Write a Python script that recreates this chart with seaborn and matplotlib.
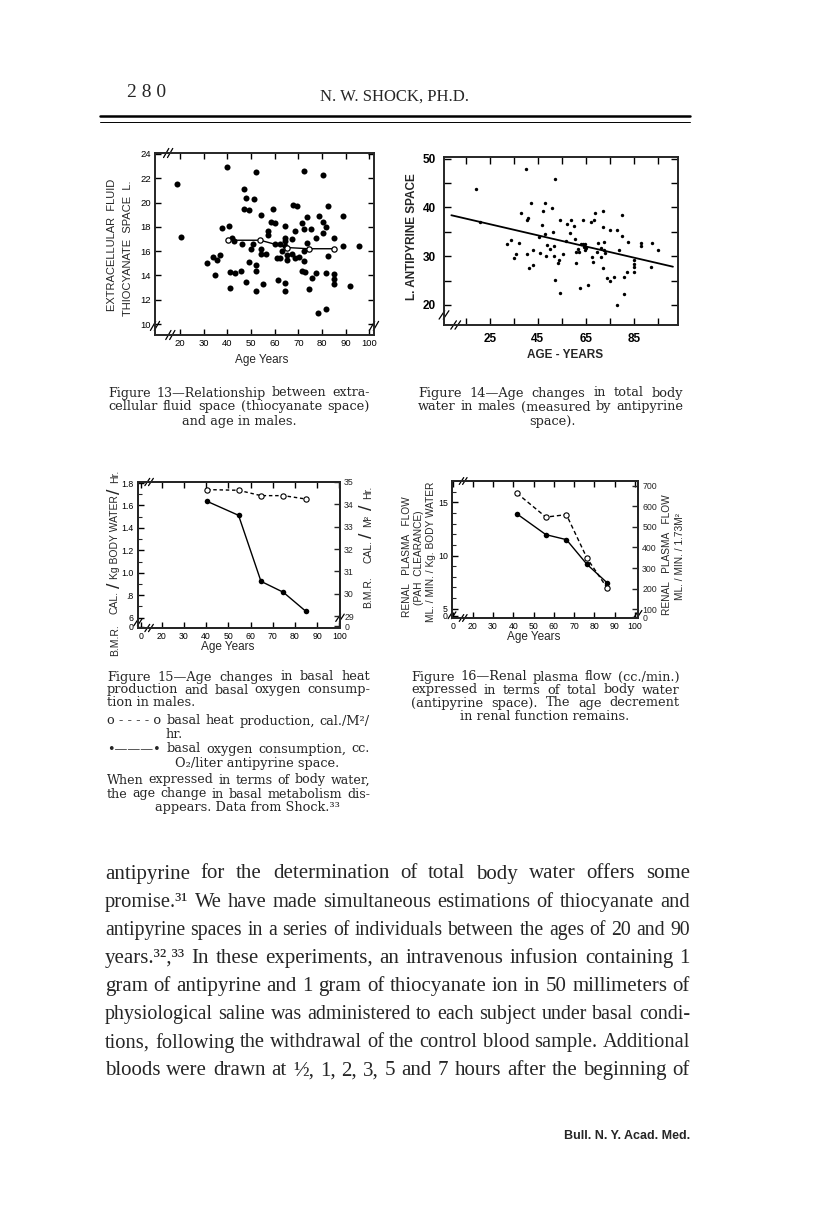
import matplotlib.pyplot as plt
import seaborn as sns
from matplotlib.lines import Line2D

sns.set_style('ticks')
plt.rcParams['font.family'] = ['Liberation Sans', 'DejaVu Sans']
plt.rcParams['axes.linewidth'] = 1.3

# ---- Figure 13: thiocyanate space vs age ----
ages13 = [18.6, 20.4, 31.5, 33.8, 34.8, 35.8, 36.9, 37.7, 39.9, 40.8,
          41.1, 41.0, 41.8, 43.0, 43.1, 45.9, 46.1, 47.2, 47.0, 48.0,
          49.1, 47.9, 49.1, 50.1, 51.1, 51.0, 52.1, 52.0, 52.1, 52.0,
          54.1, 54.1, 54.2, 55.2, 56.2, 57.0, 57.0, 58.3, 59.3, 60.0,
          60.3, 60.8, 61.3, 62.2, 62.2, 63.2, 64.2, 64.2, 64.2, 64.2,
          64.2, 64.2, 65.4, 65.4, 67.2, 67.2, 67.9, 68.6, 68.6, 69.6,
          70.4, 71.4, 71.4, 72.4, 72.4, 72.4, 72.4, 72.8, 73.5, 73.5,
          74.6, 75.3, 75.6, 77.5, 77.5, 78.5, 78.7, 80.6, 80.6, 80.6,
          81.6, 81.6, 81.6, 82.5, 82.7, 85.2, 85.2, 85.2, 85.2, 88.7,
          88.7, 91.8, 95.8]
ecf13 = [21.5, 17.2, 15.0, 15.5, 14.0, 15.3, 15.7, 17.9, 22.9, 18.1,
         14.3, 13.0, 17.1, 16.8, 14.2, 14.4, 16.6, 21.1, 19.5, 20.4,
         19.4, 13.5, 15.1, 16.2, 20.3, 16.6, 22.5, 14.9, 14.4, 12.7,
         19.0, 16.2, 15.8, 13.3, 15.8, 17.7, 17.3, 18.4, 19.5, 16.6,
         18.3, 15.4, 13.6, 15.4, 16.6, 16.0, 18.1, 17.1, 16.8, 16.4,
         13.4, 12.7, 15.7, 15.3, 17.0, 15.8, 19.8, 17.7, 15.4, 19.7,
         15.5, 18.3, 14.4, 22.6, 17.8, 15.2, 16.0, 14.3, 18.8, 16.7,
         12.9, 17.8, 13.8, 17.1, 14.2, 10.9, 18.9, 22.3, 18.4, 17.5,
         18.0, 14.2, 11.2, 15.6, 19.7, 17.1, 14.1, 13.7, 13.3, 18.9,
         16.4, 13.1, 16.4]
mean_age13 = [40.1, 53.9, 65.2, 74.4, 85.2]
mean_ecf13 = [16.9, 16.9, 16.3, 16.2, 16.2]

# ---- Figure 14: antipyrine space vs age ----
ages14 = [19.2, 20.9, 32.2, 34.0, 35.1, 36.1, 37.2, 37.9, 40.2, 40.6,
          40.9, 40.5, 41.2, 42.0, 43.0, 43.0, 45.6, 45.7, 47.1, 46.9,
          48.1, 48.1, 48.5, 48.9, 49.9, 50.9, 51.1, 51.7, 51.7, 52.0,
          52.0, 53.4, 53.8, 54.0, 54.3, 55.4, 56.8, 57.2, 58.2, 58.9,
          59.9, 60.4, 61.0, 61.0, 61.7, 62.1, 62.6, 63.0, 63.9, 63.7,
          64.1, 64.4, 64.7, 65.1, 65.8, 67.2, 67.5, 68.0, 68.3, 68.8,
          69.3, 70.0, 71.0, 71.3, 71.9, 72.0, 72.0, 72.4, 72.4, 73.0,
          73.7, 74.8, 75.1, 76.6, 77.8, 77.6, 78.5, 80.0, 80.0, 80.7,
          80.7, 81.8, 82.4, 84.9, 84.9, 84.9, 84.9, 87.9, 87.9, 91.7,
          92.2, 94.8]
anti14 = [43.7, 37.0, 32.5, 33.3, 29.6, 30.4, 32.8, 38.9, 47.8, 37.5,
          37.9, 30.4, 27.6, 41.0, 31.3, 28.3, 34.0, 30.6, 39.3, 36.4,
          41.0, 34.5, 30.0, 32.3, 31.4, 39.9, 35.0, 32.1, 30.0, 45.8,
          25.1, 28.7, 29.2, 37.5, 22.5, 30.4, 33.1, 36.6, 34.8, 37.5,
          36.2, 33.6, 28.7, 30.9, 31.4, 30.9, 23.4, 32.5, 37.5, 32.6,
          31.9, 31.3, 32.6, 31.6, 24.2, 37.0, 29.8, 28.9, 37.4, 38.9,
          30.9, 32.8, 29.8, 31.6, 39.2, 35.9, 27.5, 33.0, 31.3, 30.6,
          25.5, 24.9, 35.3, 25.8, 35.3, 20.1, 31.3, 38.5, 34.1, 22.3,
          25.8, 26.8, 33.0, 29.3, 28.5, 27.7, 26.8, 32.8, 32.0, 27.7,
          32.8, 31.3]
fit_age14 = [9.1, 101.0]
fit_anti14 = [38.4, 27.85]

# ---- Figure 15: basal metabolism ----
ages15 = [40.4, 54.6, 64.7, 74.8, 84.9]
heat15 = [34.66, 34.63, 34.39, 34.39, 34.24]     # cal./M2/hr (right axis)
oxygen15 = [1.637, 1.512, 0.924, 0.826, 0.657]   # per kg body water (left axis)

# ---- Figure 16: renal plasma flow ----
ages16 = [41.8, 56.1, 66.2, 76.4, 86.2]
rpf_water16 = [13.91, 11.96, 11.49, 9.16, 7.45]  # left axis
rpf_area16 = [663, 547, 559, 347, 205]           # right axis

W, H = 816, 1224
fig = plt.figure(figsize=(W / 100, H / 100), dpi=100)
rend = fig.canvas.get_renderer()


def ax_at(l, t, r, b):
    return fig.add_axes([l / W, 1 - b / H, (r - l) / W, (b - t) / H])


def txt(x, y, s, **kw):
    return fig.text(x / W, 1 - y / H, s, **kw)


def justify(tokens, x0, x1, y, fontsize, mingap=4, **kw):
    # spread the words so the line fills x0..x1, shrinking the type if it is too tight
    if isinstance(tokens, str):
        tokens = tokens.split()
    texts = [txt(0, y, w, ha='left', va='center', fontsize=fontsize, **kw) for w in tokens]
    n = max(len(tokens) - 1, 1)
    while True:
        widths = [t.get_window_extent(rend).width for t in texts]
        gap = (x1 - x0 - sum(widths)) / n
        if gap >= mingap or fontsize < 6:
            break
        fontsize -= 0.2
        for t in texts:
            t.set_fontsize(fontsize)
    x = x0
    for t, w in zip(texts, widths):
        t.set_x(x / W)
        x += w + gap


def brk(ax, x, y, dx=0.012, dy=0.025, sep=0.018):
    for s in (-sep / 2, sep / 2):
        ax.plot([x + s - dx, x + s + dx], [y - dy, y + dy], transform=ax.transAxes,
                color='k', lw=0.9, clip_on=False)


def style(ax, size):
    ax.tick_params(direction='in', top=True, right=True, length=4, width=1,
                   labelsize=size, pad=3, colors='k')
    for sp in ax.spines.values():
        sp.set_visible(True)
        sp.set_linewidth(1.4)


# header
txt(127, 97, '2 8 0', fontsize=14, family=['Liberation Serif'])
txt(395, 97, 'N. W. SHOCK, PH.D.', fontsize=12, ha='center', va='center',
    family=['Liberation Serif'])
fig.add_artist(Line2D([100 / W, 690 / W], [1 - 116 / H] * 2, color='k', lw=1.8))
fig.add_artist(Line2D([100 / W, 690 / W], [1 - 122 / H] * 2, color='k', lw=0.7))

# ---- Fig 13 ----
ax = ax_at(155, 153, 374, 335)
sns.scatterplot(x=ages13, y=ecf13, ax=ax, color='k', s=19, linewidth=0)
sns.lineplot(x=mean_age13, y=mean_ecf13, ax=ax, color='k', lw=1, marker='o',
             markersize=3.8, markerfacecolor='white', markeredgecolor='k',
             markeredgewidth=0.9, estimator=None)
ax.set_xlim(9.4, 102)
ax.set_ylim(9.1, 24.08)
ax.set_xticks(range(20, 101, 10))
ax.set_yticks(range(10, 25, 2))
style(ax, 6.8)
brk(ax, 0.06, 1.0)
brk(ax, 0.07, 0.0)
brk(ax, 0.0, 0.05)
brk(ax, 1.0, 0.05)
txt(262, 360, 'Age Years', fontsize=8.5, ha='center', va='center')
txt(112, 245, 'EXTRACELLULAR  FLUID', fontsize=8, rotation=90, ha='center', va='center')
txt(128, 248, 'THIOCYANATE  SPACE  L.', fontsize=8, rotation=90, ha='center', va='center')

# ---- Fig 14 ----
ax = ax_at(444, 157, 678, 325)
sns.scatterplot(x=ages14, y=anti14, ax=ax, color='k', s=6, linewidth=0)
sns.lineplot(x=fit_age14, y=fit_anti14, ax=ax, color='k', lw=1.3, estimator=None)
ax.set_xlim(6.05, 103.1)
ax.set_ylim(15.9, 50.34)
ax.set_xticks(range(15, 96, 10))
ax.set_xticklabels(['' if v % 20 == 15 else str(v) for v in range(15, 96, 10)],
                   fontweight='bold')
ax.set_yticks(range(20, 51, 5))
ax.set_yticklabels([str(v) if v % 10 == 0 else '' for v in range(20, 51, 5)],
                   fontweight='bold')
style(ax, 8.5)
ax.tick_params(length=5, pad=6)
brk(ax, 0.0, 0.06)
brk(ax, 0.05, 0.0)
txt(565, 355, 'AGE - YEARS', fontsize=8.5, fontweight='bold', ha='center', va='center')
txt(412, 237, 'L. ANTIPYRINE SPACE', fontsize=8.5, fontweight='bold', rotation=90,
    ha='center', va='center')

# ---- Fig 15 ----
ax = ax_at(138, 482, 340, 628)
ax2 = ax.twinx()
sns.lineplot(x=ages15, y=oxygen15, ax=ax, color='k', lw=1, marker='o', markersize=4,
             markeredgewidth=0, estimator=None)
sns.lineplot(x=ages15, y=heat15, ax=ax2, color='k', lw=1, ls=(0, (2.5, 2)), marker='o',
             markersize=3.8, markerfacecolor='white', markeredgecolor='k',
             markeredgewidth=0.8, estimator=None)
ax.set_xlim(9.3, 100.3)
ax.set_ylim(0.508, 1.809)
ax2.set_ylim(28.47, 35.0)
ax.set_xticks([10.6] + list(range(20, 101, 10)))
ax.set_xticklabels(['0'] + [str(v) for v in range(20, 101, 10)])
ax.set_yticks([0.517, 0.6, 0.8, 1.0, 1.2, 1.4, 1.6, 1.8])
ax.set_yticklabels(['0', '6', '.8', '1.0', '1.2', '1.4', '1.6', '1.8'])
ax.set_yticks([0.7, 0.9, 1.1, 1.3, 1.5, 1.7], minor=True)
ax2.set_yticks([28.55] + list(range(29, 36)))
ax2.set_yticklabels(['0'] + [str(v) for v in range(29, 36)])
ax2.set_ylabel('')
ax.set_ylabel('')
style(ax, 6.3)
ax.tick_params(right=False)
ax.tick_params(which='minor', direction='in', left=True, length=3, width=0.8)
ax2.tick_params(direction='in', length=4, width=1, labelsize=6.3, pad=3)
brk(ax, 0.055, 1.0)
brk(ax, 0.055, 0.0)
brk(ax, 0.0, 0.04)
brk(ax, 1.0, 0.07)
txt(228, 647, 'Age Years', fontsize=8.5, ha='center', va='center')
for s, y, fs in [('B.M.R.', 640, 7.5), ('CAL.', 603, 7.5), ('/', 585, 14),
                 ('Kg BODY WATER', 537, 7.5), ('/', 491, 14), ('Hr.', 476, 7.5)]:
    txt(115, y, s, fontsize=fs, rotation=90, ha='center', va='center')
for s, y, fs in [('B.M.R.', 592, 7.5), ('CAL.', 552, 7.5), ('/', 535, 14),
                 ('M²', 521, 7.5), ('/', 507, 14), ('Hr.', 492, 7.5)]:
    txt(368, y, s, fontsize=fs, rotation=90, ha='center', va='center')

# ---- Fig 16 ----
ax = ax_at(452, 481, 638, 618)
ax2 = ax.twinx()
sns.lineplot(x=ages16, y=rpf_water16, ax=ax, color='k', lw=1, marker='o', markersize=4,
             markeredgewidth=0, estimator=None)
sns.lineplot(x=ages16, y=rpf_area16, ax=ax2, color='k', lw=1, ls=(0, (3, 2)), marker='o',
             markersize=3.8, markerfacecolor='white', markeredgecolor='k',
             markeredgewidth=0.8, estimator=None)
ax.set_xlim(9.8, 101.5)
ax.set_ylim(4.13, 17.0)
ax2.set_ylim(58, 722)
ax.set_xticks([10.2] + list(range(20, 101, 10)))
ax.set_xticklabels(['0'] + [str(v) for v in range(20, 101, 10)])
ax.set_yticks([4.32, 5, 10, 15])
ax.set_yticklabels(['0', '5', '10', '15'])
ax.set_yticks([6, 7, 8, 9, 11, 12, 13, 14, 16], minor=True)
ax2.set_yticks([62] + list(range(100, 701, 100)))
ax2.set_yticklabels(['0'] + [str(v) for v in range(100, 701, 100)])
ax2.set_ylabel('')
ax.set_ylabel('')
style(ax, 6.3)
ax.tick_params(right=False)
ax.tick_params(which='minor', direction='in', left=True, length=3, width=0.8)
ax2.tick_params(direction='in', length=4, width=1, labelsize=6.3, pad=3)
brk(ax, 0.06, 1.0)
brk(ax, 0.06, 0.0)
brk(ax, 0.0, 0.02)
brk(ax, 1.0, 0.03)
txt(534, 637, 'Age Years', fontsize=8.5, ha='center', va='center')
txt(407, 557, 'RENAL   PLASMA   FLOW', fontsize=7.3, rotation=90, ha='center', va='center')
txt(419, 558, '(PAH  CLEARANCE)', fontsize=7.3, rotation=90, ha='center', va='center')
txt(431, 552, 'ML. / MIN. / Kg. BODY WATER', fontsize=7.3, rotation=90, ha='center', va='center')
txt(667, 555, 'RENAL   PLASMA   FLOW', fontsize=7.3, rotation=90, ha='center', va='center')
txt(680, 557, 'ML. / MIN. / 1.73M²', fontsize=7.3, rotation=90, ha='center', va='center')

# ---- captions ----
cfont = ['DejaVu Serif']
cap = dict(fontsize=9.3, family=cfont)
jcap = dict(fontsize=9.3, mingap=4.5, family=cfont)
justify('Figure 13—Relationship between extra-', 108, 370, 393, **jcap)
justify('cellular fluid space (thiocyanate space)', 108, 370, 407, **jcap)
txt(239, 421, 'and age in males.', ha='center', va='center', **cap)
justify('Figure 14—Age changes in total body', 418, 683, 393, **jcap)
justify('water in males (measured by antipyrine', 418, 683, 407, **jcap)
txt(552, 421, 'space).', ha='center', va='center', **cap)

justify('Figure 15—Age changes in basal heat', 107, 370, 677, **jcap)
justify('production and basal oxygen consump-', 107, 370, 690, **jcap)
txt(107, 703, 'tion in males.', ha='left', va='center', **cap)
justify(['o - - - - o', 'basal', 'heat', 'production,', 'cal./M²/'], 107, 370, 721, **jcap)
txt(165, 735, 'hr.', ha='left', va='center', **cap)
justify(['•———•', 'basal', 'oxygen', 'consumption,', 'cc.'], 107, 370, 749, **jcap)
txt(175, 763, 'O₂/liter antipyrine space.', ha='left', va='center', **cap)
justify('When expressed in terms of body water,', 107, 370, 780, **jcap)
justify('the age change in basal metabolism dis-', 107, 370, 794, **jcap)
txt(247, 808, 'appears. Data from Shock.³³', ha='center', va='center', **cap)

justify('Figure 16—Renal plasma flow (cc./min.)', 411, 680, 677, **jcap)
justify('expressed in terms of total body water', 411, 680, 690, **jcap)
justify('(antipyrine space). The age decrement', 411, 680, 703, **jcap)
txt(545, 717, 'in renal function remains.', ha='center', va='center', **cap)

# ---- body text ----
body = [
    'antipyrine for the determination of total body water offers some',
    'promise.³¹ We have made simultaneous estimations of thiocyanate and',
    'antipyrine spaces in a series of individuals between the ages of 20 and 90',
    'years.³²,³³ In these experiments, an intravenous infusion containing 1',
    'gram of antipyrine and 1 gram of thiocyanate ion in 50 millimeters of',
    'physiological saline was administered to each subject under basal condi-',
    'tions, following the withdrawal of the control blood sample. Additional',
    'bloods were drawn at ½, 1, 2, 3, 5 and 7 hours after the beginning of',
]
for i, line in enumerate(body):
    justify(line, 105, 690, 874 + 28.1 * i, fontsize=15, mingap=5,
            family=['Liberation Serif', 'DejaVu Serif'])

txt(690, 1136, 'Bull. N. Y. Acad. Med.', fontsize=9, fontweight='bold', ha='right',
    va='center', family=['Liberation Sans Narrow', 'Liberation Sans'])

fig.savefig('out.png', dpi=100)
